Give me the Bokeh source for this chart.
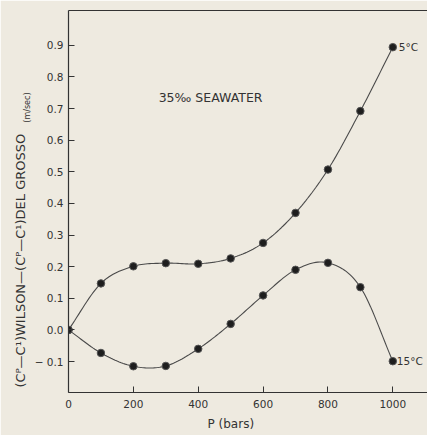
import numpy as np
from bokeh.plotting import figure
from bokeh.models import LinearAxis, FixedTicker, Label, Range1d, Title
from bokeh.embed import file_html
from bokeh.resources import INLINE

# ---- data ----
pressure_bars = [0, 100, 200, 300, 400, 500, 600, 700, 800, 900, 1000]
diff_5c = [0.0, 0.147, 0.201, 0.211, 0.209, 0.226, 0.275, 0.370, 0.507, 0.692, 0.894]
diff_15c = [0.0, -0.073, -0.115, -0.114, -0.060, 0.019, 0.109, 0.190, 0.212, 0.135, -0.099]
x_ticks = [0, 200, 400, 600, 800, 1000]
y_ticks = [-0.1, 0.0, 0.1, 0.2, 0.3, 0.4, 0.5, 0.6, 0.7, 0.8, 0.9]
y_tick_labels = ["\u2212 0.1", "0.0", "0.1", "0.2", "0.3", "0.4", "0.5", "0.6", "0.7", "0.8", "0.9"]
series_labels = ["5\u00b0C", "15\u00b0C"]

FONT = "DejaVu Sans"
INK = "#333333"
PAPER = "#eeeae0"


def smooth(xs, ys, n=16):
    """Catmull-Rom curve through the given points (drawing aid for the line)."""
    x = np.asarray(xs, float)
    y = np.asarray(ys, float)
    px = np.concatenate([[2 * x[0] - x[1]], x, [2 * x[-1] - x[-2]]])
    py = np.concatenate([[2 * y[0] - y[1]], y, [2 * y[-1] - y[-2]]])
    ox, oy = [], []
    t = np.linspace(0, 1, n, endpoint=False)
    for i in range(1, len(px) - 2):
        for arr, out in ((px, ox), (py, oy)):
            p0, p1, p2, p3 = arr[i - 1], arr[i], arr[i + 1], arr[i + 2]
            out.extend(0.5 * ((2 * p1) + (-p0 + p2) * t + (2 * p0 - 5 * p1 + 4 * p2 - p3) * t ** 2
                              + (-p0 + 3 * p1 - 3 * p2 + p3) * t ** 3))
    ox.append(x[-1])
    oy.append(y[-1])
    return ox, oy


p = figure(width=427, height=435, output_backend="svg", toolbar_location=None,
           x_range=Range1d(0, 1107), y_range=Range1d(-0.198, 1.01),
           min_border_left=68, min_border_right=0, min_border_top=10, min_border_bottom=43)
p.background_fill_color = PAPER
p.border_fill_color = PAPER
p.outline_line_color = None
p.grid.visible = False

# axes
p.xaxis.ticker = FixedTicker(ticks=x_ticks)
p.yaxis.ticker = FixedTicker(ticks=y_ticks)
p.yaxis.major_label_overrides = {t: l for t, l in zip(y_ticks, y_tick_labels)}
for ax in (p.xaxis[0], p.yaxis[0]):
    ax.axis_line_color = INK
    ax.axis_line_width = 1.2
    ax.major_tick_line_color = INK
    ax.major_tick_in = 6
    ax.major_tick_out = 0
    ax.minor_tick_line_color = None
    ax.major_label_text_font = FONT
    ax.major_label_text_font_size = "10.5px"
    ax.major_label_text_color = INK
p.xaxis.major_label_standoff = 7
p.yaxis.major_label_standoff = 5

top_axis = LinearAxis(ticker=FixedTicker(ticks=[]), axis_line_color=INK, axis_line_width=1.2,
                      major_tick_line_color=None, minor_tick_line_color=None,
                      major_label_text_font_size="0px")
p.add_layout(top_axis, "above")

# axis titles
p.add_layout(Title(text="P (bars)", align="left", offset=139, standoff=8,
                   text_font=FONT, text_font_size="12px", text_color=INK,
                   text_font_style="normal"), "below")
p.add_layout(Title(text="(m/sec)", align="right", offset=82, standoff=0,
                   text_font=FONT, text_font_size="8px", text_color=INK,
                   text_font_style="normal"), "left")
p.add_layout(Title(text="(C\u1d3e\u2014C\u00b9)WILSON\u2014(C\u1d3e\u2014C\u00b9)DEL GROSSO",
                   align="left", offset=5, standoff=-14,
                   text_font=FONT, text_font_size="13px", text_color=INK,
                   text_font_style="normal"), "left")

# curves
for ys in (diff_5c, diff_15c):
    sx, sy = smooth(pressure_bars, ys)
    p.line(sx, sy, line_color="#4a4a4a", line_width=1.1)
    p.scatter(pressure_bars, ys, size=7.5, fill_color="#1e1e1e", line_color="#555555", line_width=1)

# annotations
p.add_layout(Label(x=pressure_bars[-1], y=diff_5c[-1], text=series_labels[0], x_offset=6,
                   text_font=FONT, text_font_size="10.5px", text_color=INK,
                   text_baseline="middle"))
p.add_layout(Label(x=pressure_bars[-1], y=diff_15c[-1], text=series_labels[1], x_offset=4,
                   text_font=FONT, text_font_size="10.5px", text_color=INK,
                   text_baseline="middle"))
p.add_layout(Label(x=278, y=0.735, text="35\u2030 SEAWATER", text_font=FONT,
                   text_font_size="12.5px", text_color=INK, text_baseline="middle"))

open("out.html", "w").write(file_html(p, INLINE))
